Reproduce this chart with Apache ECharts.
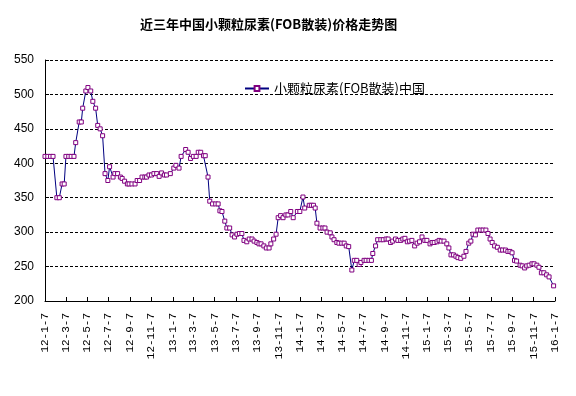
<!DOCTYPE html>
<html>
<head>
<meta charset="utf-8">
<script src="https://cdn.jsdelivr.net/npm/echarts@6/dist/echarts.min.js"></script>
<style>html,body{margin:0;padding:0;background:#fff;}#chart{width:576px;height:396px;}</style>
</head>
<body>
<div id="chart"></div>
<script>
const titleText = '近三年中国小颗粒尿素(FOB散装)价格走势图';
const seriesName = '小颗粒尿素(FOB散装)中国';
// days since 2012-01-07 of each observation
const dayOffsets = [0,8,16,23,34,41,49,55,60,68,
75,83,88,98,104,108,117,123,131,137,
145,151,158,165,172,180,185,195,200,208,
216,221,228,236,241,249,258,264,271,278,
286,291,298,305,312,320,327,334,342,348,
359,369,375,384,390,403,410,417,425,433,
439,446,454,459,467,472,480,489,496,501,
507,515,521,529,536,543,550,557,564,570,
578,585,593,599,607,613,619,627,634,642,
647,655,662,668,675,682,690,696,704,711,
723,730,739,744,757,763,769,774,779,788,
796,802,808,817,822,828,836,842,850,857,
863,870,879,886,893,900,905,914,920,928,
935,939,947,953,962,969,977,983,990,996,
1004,1011,1019,1025,1031,1038,1044,1051,1059,1066,
1073,1080,1088,1094,1103,1109,1115,1123,1129,1135,
1143,1151,1157,1163,1170,1177,1183,1191,1200,1206,
1214,1220,1226,1233,1240,1248,1255,1263,1269,1275,
1281,1288,1296,1304,1311,1319,1326,1332,1338,1345,
1351,1361,1367,1374,1380,1387,1395,1401,1409,1415,
1422,1429,1437,1444,1457];
const prices = [410,410,410,410,350,350,370,370,410,410,
410,410,430,460,460,480,505,510,505,490,
480,455,450,440,385,375,395,380,385,385,
380,378,374,370,370,370,370,375,375,380,
380,380,383,383,385,385,381,386,383,383,
385,393,397,393,410,420,416,407,410,410,
416,416,411,411,380,345,341,341,341,331,
330,316,306,306,296,293,297,298,298,288,
286,290,290,287,285,283,283,280,277,277,
283,290,297,321,324,321,325,325,330,321,
330,330,351,335,339,339,339,335,313,306,
306,306,300,299,293,289,285,284,284,284,
280,279,245,259,259,253,256,259,259,259,
259,269,280,289,289,289,290,290,285,287,
290,288,288,290,291,286,287,288,280,284,
286,293,288,288,283,285,285,286,288,287,
287,283,277,267,267,265,263,262,265,272,
284,287,297,296,303,303,303,303,298,290,
285,280,278,274,274,274,272,272,270,259,
258,252,251,248,251,252,254,254,252,249,
241,241,238,235,222];
const tickLabels = ['12-1-7','12-3-7','12-5-7','12-7-7','12-9-7','12-11-7',
'13-1-7','13-3-7','13-5-7','13-7-7','13-9-7','13-11-7',
'14-1-7','14-3-7','14-5-7','14-7-7','14-9-7','14-11-7',
'15-1-7','15-3-7','15-5-7','15-7-7','15-9-7','15-11-7','16-1-7'];
const yMin = 200, yMax = 550, yStep = 50;

const DAY = 86400000;
function labelToDay(l) {
  const p = l.split('-').map(Number);
  return Math.round((Date.UTC(2000 + p[0], p[1] - 1, p[2]) - Date.UTC(2012, 0, 7)) / DAY);
}
const tickDays = tickLabels.map(labelToDay);
const labelMap = {};
tickLabels.forEach((l, i) => { labelMap[tickDays[i]] = l; });
const data = dayOffsets.map((d, i) => [d, prices[i]]);

const chart = echarts.init(document.getElementById('chart'), null, {renderer: 'canvas'});
chart.setOption({
  animation: false,
  backgroundColor: '#fff',
  title: {
    text: titleText,
    left: 135, top: 13,
    textStyle: {fontFamily: 'Noto Sans CJK SC', fontSize: 13, fontWeight: 'bold', color: '#000'}
  },
  legend: {
    left: 239, top: 77,
    itemWidth: 24, itemHeight: 6, itemGap: 4,
    textStyle: {fontFamily: 'Noto Sans CJK SC', fontSize: 13, color: '#000'},
    data: [seriesName]
  },
  grid: {left: 45, right: 21, top: 60, bottom: 95},
  xAxis: {
    type: 'value',
    min: tickDays[0], max: tickDays[tickDays.length - 1],
    axisLine: {lineStyle: {color: '#000', width: 1}},
    axisTick: {inside: true, length: 4, customValues: tickDays, lineStyle: {color: '#000'}},
    axisLabel: {
      customValues: tickDays, rotate: 90, margin: 12,
      fontFamily: 'Liberation Mono', fontSize: 11, color: '#000',
      formatter: v => labelMap[Math.round(v)] || ''
    },
    splitLine: {show: false}
  },
  yAxis: {
    type: 'value', min: yMin, max: yMax, interval: yStep,
    axisLine: {show: true, lineStyle: {color: '#000', width: 1}},
    axisTick: {show: true, inside: true, length: 4, lineStyle: {color: '#000'}},
    axisLabel: {margin: 11, fontFamily: 'Liberation Sans', fontSize: 12, color: '#000'},
    splitLine: {show: true, lineStyle: {color: '#000', type: [3, 2], width: 1}}
  },
  series: [{
    name: seriesName,
    type: 'line',
    data: data,
    symbol: 'rect', symbolSize: 4, showAllSymbol: true,
    lineStyle: {color: '#000080', width: 1},
    itemStyle: {color: '#fff', borderColor: '#800080', borderWidth: 1}
  }]
});
</script>
</body>
</html>
